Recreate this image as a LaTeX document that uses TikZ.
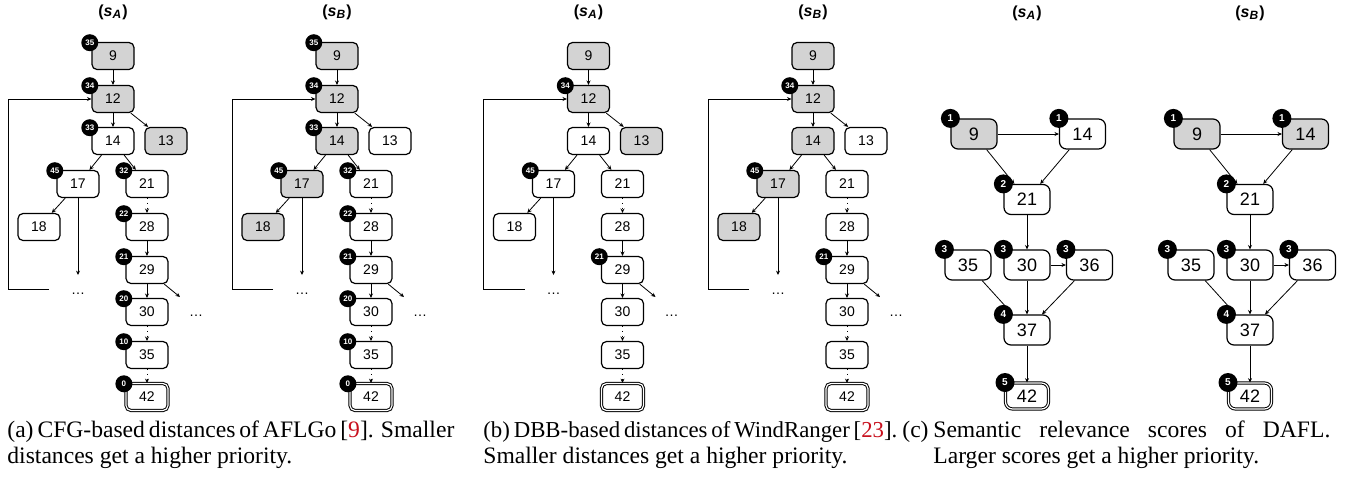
\documentclass[tikz,border=0pt]{standalone}
\usepackage{fontspec}
\setmainfont{Liberation Serif}
\newfontfamily\nodefont{Liberation Sans}
\usetikzlibrary{arrows.meta}
\definecolor{boxgray}{RGB}{211,211,211}
\definecolor{citered}{RGB}{200,16,30}
\tikzset{
  blk/.style={draw, rounded corners=2.5pt, minimum width=21pt, minimum height=13.5pt,
    inner sep=0pt, line width=0.6pt, fill=white, font=\nodefont\fontsize{7}{7}\selectfont},
  cblk/.style={blk, rounded corners=3.5pt, minimum width=23pt, minimum height=15pt,
    font=\nodefont\fontsize{9}{9}\selectfont},
  shaded/.style={fill=boxgray},
  tgtbox/.style={double, double distance=0.6pt, line width=0.5pt},
  badge/.style={circle, fill=black, inner sep=0pt, minimum size=8.5pt, text=white,
    font=\nodefont\bfseries\fontsize{4}{4}\selectfont},
  cbadge/.style={badge, minimum size=9.5pt, font=\nodefont\bfseries\fontsize{5}{5}\selectfont},
  arr/.style={-{Stealth[length=2.2pt,width=2pt]}, line width=0.4pt},
  dotarr/.style={arr, dotted},
  dotsnode/.style={inner sep=0pt, font=\nodefont\fontsize{7}{7}\selectfont},
  hdr/.style={inner sep=0pt, font=\nodefont\bfseries\fontsize{8}{8}\selectfont},
  captext/.style={inner sep=0pt, anchor=base west, font=\fontsize{11.8}{13}\selectfont},
  s9/.style={}, s12/.style={}, s13/.style={}, s14/.style={}, s17/.style={}, s18/.style={},
}
\newcommand\cfgpanel[4]{%
  \begin{scope}[shift={(#1,0)}, name prefix=#2-, #3]
    \node[blk,s9]  (n9)  at (113,56)  {9};
    \node[blk,s12] (n12) at (113,99)  {12};
    \node[blk,s14] (n14) at (113,141) {14};
    \node[blk,s13] (n13) at (166,141) {13};
    \node[blk,s17] (n17) at (78,184)  {17};
    \node[blk,s18] (n18) at (39,227)  {18};
    \node[blk] (n21) at (147,184) {21};
    \node[blk] (n28) at (147,227) {28};
    \node[blk] (n29) at (147,270) {29};
    \node[blk] (n30) at (147,312) {30};
    \node[blk] (n35) at (147,355) {35};
    \node[blk,tgtbox] (n42) at (147,397) {42};
    \node[dotsnode] (d1) at (78,294) {\dots};
    \node[dotsnode] (d2) at (196,316) {\dots};
    \coordinate (e17) at (78,275);
    \coordinate (e29) at (180,297);
    \coordinate (lb) at (49,289);
    \coordinate (lc) at (8,289);
    \draw[arr] (n9) -- (n12);
    \draw[arr] (n12) -- (n14);
    \draw[arr] (n12) -- (n13);
    \draw[arr] (n14) -- (n17);
    \draw[arr] (n14) -- (n21);
    \draw[arr] (n17) -- (n18);
    \draw[arr] (n17) -- (e17);
    \draw[dotarr] (n21) -- (n28);
    \draw[arr] (n28) -- (n29);
    \draw[arr] (n29) -- (n30);
    \draw[arr] (n29) -- (e29);
    \draw[dotarr] (n30) -- (n35);
    \draw[dotarr] (n35) -- (n42);
    \draw[arr] (lb) -- (lc) |- (n12.west);
    \foreach \n/\v in {#4}
      \node[badge] (b\n) at ([xshift=-0.8pt,yshift=-0.4pt]n\n.north west) {\v};
  \end{scope}}
\newcommand\daflpanel[3]{%
  \begin{scope}[shift={(#1,0)}, name prefix=#2-, #3]
    \node[cblk,s9]  (n9)  at (974,134)  {9};
    \node[cblk,s14] (n14) at (1082.5,134) {14};
    \node[cblk] (n21) at (1027,199.5) {21};
    \node[cblk] (n35) at (968,265) {35};
    \node[cblk] (n30) at (1027,265) {30};
    \node[cblk] (n36) at (1089.5,265) {36};
    \node[cblk] (n37) at (1027,330) {37};
    \node[cblk,tgtbox,minimum width=21.5pt,minimum height=13pt] (n42) at (1027,396) {42};
    \draw[arr] (n9) -- (n14);
    \draw[arr] (n9) -- (n21);
    \draw[arr] (n14) -- (n21);
    \draw[arr] (n21) -- (n30);
    \draw[arr] (n30) -- (n36);
    \draw[arr] (n35) -- (n37);
    \draw[arr] (n30) -- (n37);
    \draw[arr] (n36) -- (n37);
    \draw[arr] (n37) -- (n42);
    \foreach \n/\v in {9/1,14/1,21/2,35/3,30/3,36/3,37/4,42/5}
      \node[cbadge] (b\n) at (n\n.north west) {\v};
  \end{scope}}
\begin{document}
\begin{tikzpicture}[x=0.5pt,y=-0.5pt]
  \useasboundingbox (0,0) rectangle (1346,484);
  % headers
  \node[hdr] (hA1) at (113,12)   {(\textit{s}\textsubscript{\textit{A}})};
  \node[hdr] (hB1) at (337,12)   {(\textit{s}\textsubscript{\textit{B}})};
  \node[hdr] (hA2) at (588.5,12) {(\textit{s}\textsubscript{\textit{A}})};
  \node[hdr] (hB2) at (813,12)   {(\textit{s}\textsubscript{\textit{B}})};
  \node[hdr] (hA3) at (1027,13)  {(\textit{s}\textsubscript{\textit{A}})};
  \node[hdr] (hB3) at (1250,13)  {(\textit{s}\textsubscript{\textit{B}})};
  % panel (a)
  \cfgpanel{0}{aA}{s9/.style=shaded, s12/.style=shaded, s13/.style=shaded}
    {9/35,12/34,14/33,17/45,21/32,28/22,29/21,30/20,35/10,42/0}
  \cfgpanel{224}{aB}{s9/.style=shaded, s12/.style=shaded, s14/.style=shaded, s17/.style=shaded, s18/.style=shaded}
    {9/35,12/34,14/33,17/45,21/32,28/22,29/21,30/20,35/10,42/0}
  % panel (b)
  \cfgpanel{475.5}{bA}{s9/.style=shaded, s12/.style=shaded, s13/.style=shaded}
    {12/34,17/45,29/21}
  \cfgpanel{700}{bB}{s9/.style=shaded, s12/.style=shaded, s14/.style=shaded, s17/.style=shaded, s18/.style=shaded}
    {12/34,17/45,29/21}
  % panel (c)
  \daflpanel{0}{cA}{s9/.style=shaded}
  \daflpanel{223}{cB}{s9/.style=shaded, s14/.style=shaded}
  % captions
  \node[captext] (capA1) at (7,437) {\makebox[221.5pt][s]{(a) CFG-based distances of AFLGo [\textcolor{citered}{9}]. Smaller}};
  \node[captext] (capA2) at (7,463) {distances get a higher priority.};
  \node[captext] (capB1) at (483,437) {\makebox[207pt][s]{\fontsize{11.4}{13}\selectfont (b) DBB-based distances of WindRanger [\textcolor{citered}{23}].}};
  \node[captext] (capB2) at (483,463) {Smaller distances get a higher priority.};
  \node[captext] (capC1) at (902,437) {\makebox[15.5pt][l]{(c)}\makebox[198.5pt][s]{Semantic relevance scores of DAFL.}};
  \node[captext] (capC2) at (933,463) {Larger scores get a higher priority.};
\end{tikzpicture}
\end{document}
